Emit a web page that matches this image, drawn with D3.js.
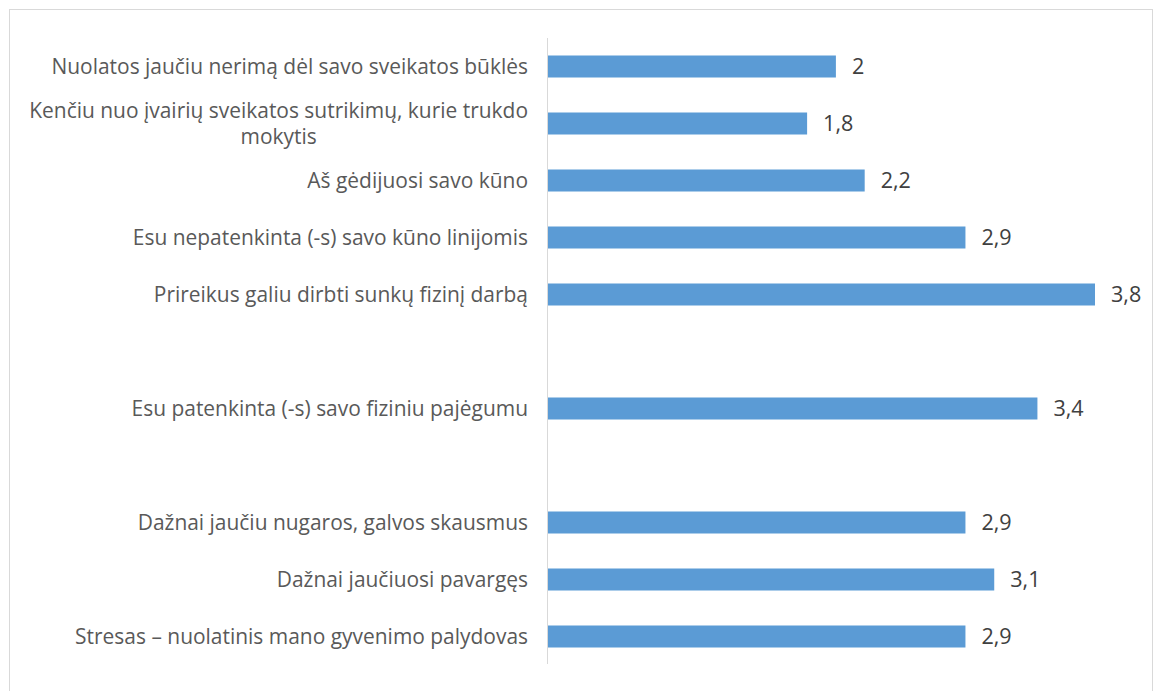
<!DOCTYPE html>
<html><head><meta charset="utf-8">
<script src="https://cdn.jsdelivr.net/npm/d3@7"></script>
<style>body{margin:0;background:#fff}svg{display:block}</style>
</head><body>
<svg id="c" width="1160" height="691"></svg>
<script>
const categories = [
  "Nuolatos jaučiu nerimą dėl savo sveikatos būklės",
  "Kenčiu nuo įvairių sveikatos sutrikimų, kurie trukdo|mokytis",
  "Aš gėdijuosi savo kūno",
  "Esu nepatenkinta (-s) savo kūno linijomis",
  "Prireikus galiu dirbti sunkų fizinį darbą",
  "",
  "Esu patenkinta (-s) savo fiziniu pajėgumu",
  " ",
  "Dažnai jaučiu nugaros, galvos skausmus",
  "Dažnai jaučiuosi pavargęs",
  "Stresas – nuolatinis mano gyvenimo palydovas"
];
const values = [2, 1.8, 2.2, 2.9, 3.8, null, 3.4, null, 2.9, 3.1, 2.9];
const valueLabels = ["2", "1,8", "2,2", "2,9", "3,8", "", "3,4", "", "2,9", "3,1", "2,9"];

const svg = d3.select("#c");
const font = "'Open Sans', sans-serif";

const probe = svg.append("text").attr("font-family", font).attr("font-size", 20).text(categories[0]);
const fs = 20 * 477 / probe.node().getComputedTextLength();
probe.remove();

svg.append("rect").attr("x", 9.5).attr("y", 9.5).attr("width", 1143).attr("height", 700)
  .attr("fill", "#fff").attr("stroke", "#d9d9d9").attr("stroke-width", 1);

const x0 = 548;
const x = d3.scaleLinear().domain([0, 3.8]).range([x0, 1095]);
const y = d3.scaleBand().domain(d3.range(categories.length)).range([38, 665]).paddingInner(0.614).paddingOuter(0.307);

const data = categories.map((c, i) => ({c, v: values[i], l: valueLabels[i], i}));

svg.append("g").selectAll("rect").data(data.filter(d => d.v != null)).join("rect")
  .attr("x", x(0)).attr("y", d => y(d.i)).attr("width", d => x(d.v) - x(0))
  .attr("height", y.bandwidth()).attr("fill", "#5b9bd5");

svg.append("line").attr("x1", x0 - 0.5).attr("x2", x0 - 0.5).attr("y1", 38).attr("y2", 664)
  .attr("stroke", "#d9d9d9").attr("stroke-width", 1);

svg.append("g").selectAll("text").data(data.filter(d => d.v != null)).join("text")
  .attr("x", d => x(d.v) + 16).attr("y", d => y(d.i) + y.bandwidth() / 2)
  .attr("dy", "0.35em").attr("font-family", font).attr("font-size", fs * 1.03)
  .attr("fill", "#404040").text(d => d.l);

const lg = svg.append("g");
data.forEach(d => {
  const lines = d.c.split("|").filter(s => s.trim() !== "");
  if (!lines.length) return;
  const cy = y(d.i) + y.bandwidth() / 2;
  const lh = 26;
  if (lines.length === 1) {
    lg.append("text").attr("font-family", font).attr("font-size", fs).attr("fill", "#595959")
      .attr("x", 528).attr("y", cy).attr("dy", "0.35em").attr("text-anchor", "end").text(lines[0]);
  } else {
    const tmp = lg.append("text").attr("font-family", font).attr("font-size", fs).text(lines[0]);
    const w = tmp.node().getComputedTextLength();
    tmp.remove();
    const cx = 528 - w / 2;
    lines.forEach((ln, k) => {
      lg.append("text").attr("font-family", font).attr("font-size", fs).attr("fill", "#595959")
        .attr("x", cx).attr("y", cy + (k - (lines.length - 1) / 2) * lh)
        .attr("dy", "0.35em").attr("text-anchor", "middle").text(ln);
    });
  }
});
</script>
</body></html>
